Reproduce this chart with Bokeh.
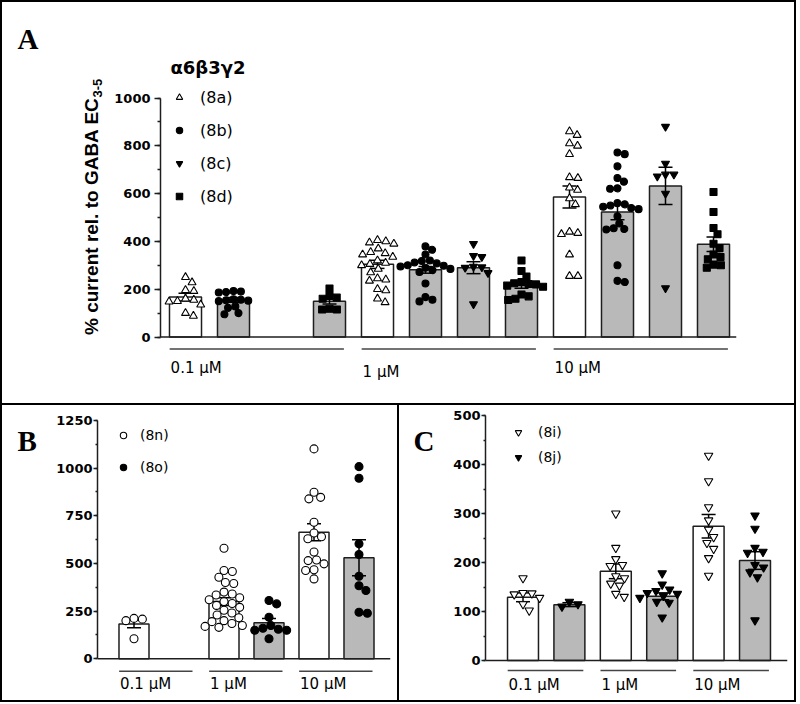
import math
from bokeh.plotting import figure
from bokeh.models import Range1d, Span, Legend, LegendItem, SingleIntervalTicker, Spacer
from bokeh.layouts import column, row
from bokeh.embed import file_html
from bokeh.resources import INLINE
from bokeh.core.properties import value

# ------------------------------------------------------------------ data
conc_labels = ["0.1 µM", "1 µM", "10 µM"]

# Panel A  (α6β3γ2)
a_title = "α6β3γ2"
a_ylabel = "% current rel. to GABA EC"
a_ylabel_sub = "3-5"
a_names = ["(8a)", "(8b)", "(8c)", "(8d)"]
mean_8a = [167, 304, 586]
sem_8a = [16, 17, 46]
mean_8b = [155, 281, 523]
sem_8b = [10, 14, 32]
mean_8c = [None, 290, 632]
sem_8c = [None, 25, 78]
mean_8d = [150, 216, 388]
sem_8d = [12, 12, 30]
pts_8a = [
    [250, 228, 196, 192, 160, 155, 150, 148, 135, 100, 88],
    [405, 400, 395, 390, 370, 355, 350, 345, 335, 320, 310, 305, 300, 285, 270, 245, 240, 235, 200, 195, 160, 145],
    [860, 845, 810, 800, 765, 668, 665, 625, 615, 580, 555, 440, 435, 430, 345, 255, 255],
]
pts_8b = [
    [192, 190, 188, 186, 158, 156, 154, 152, 150, 128, 122, 100, 95],
    [379, 365, 345, 320, 318, 312, 308, 300, 298, 295, 290, 285, 280, 272, 224, 167, 156, 149],
    [772, 765, 714, 665, 650, 622, 620, 560, 555, 550, 545, 540, 535, 505, 475, 455, 452, 450, 300, 235, 230],
]
pts_8c = [
    [],
    [390, 340, 335, 295, 292, 290, 268, 138],
    [880, 726, 680, 680, 672, 600, 205],
]
pts_8d = [
    [203, 172, 165, 160, 118, 115, 115],
    [320, 276, 253, 230, 225, 222, 220, 215, 210, 178, 170, 160, 155],
    [607, 523, 456, 430, 390, 372, 345, 335, 325, 303, 300, 290],
]

# Panel B
b_names = ["(8n)", "(8o)"]
mean_8n = [183, 300, 664]
sem_8n = [20, 20, 45]
mean_8o = [None, 189, 530]
sem_8o = [None, 22, 95]
pts_8n = [
    [212, 208, 200, 105],
    [580, 463, 458, 428, 400, 395, 350, 340, 335, 320, 310, 300, 290, 280, 270, 255, 240, 230, 215, 200, 195, 185, 175, 170, 165],
    [1101, 874, 847, 839, 716, 660, 640, 630, 560, 518, 515, 498, 467, 463, 419],
]
pts_8o = [
    [],
    [306, 288, 218, 175, 160, 155, 150, 150, 105],
    [1008, 947, 603, 547, 433, 383, 358, 244, 239],
]

# Panel C
c_names = ["(8i)", "(8j)"]
mean_8i = [129, 182, 274]
sem_8i = [9, 15, 24]
mean_8j = [114, 131, 204]
sem_8j = [4, 7, 18]
pts_8i = [
    [168, 138, 137, 135, 128, 115, 102],
    [300, 230, 207, 195, 193, 172, 168, 157, 153, 136, 130],
    [418, 366, 313, 286, 267, 252, 240, 228, 209, 173],
]
pts_8j = [
    [120, 115, 110],
    [178, 155, 145, 142, 138, 136, 132, 128, 120, 118, 88],
    [296, 269, 230, 222, 220, 195, 190, 180, 170, 82],
]

# ------------------------------------------------------------------ styles
GRAY = "#b9b9b9"
INK = "#1e1e1e"
SANS = "DejaVu Sans"


def swarm(vals, ppu, slot_px, d):
    """Simple beeswarm: horizontal offsets (data units) so markers don't overlap."""
    order = sorted(range(len(vals)), key=lambda i: -vals[i])
    placed = []
    offs = [0.0] * len(vals)
    for i in order:
        y = vals[i] * ppu
        cands = [0.0]
        for xp, yp in placed:
            ddy = abs(y - yp)
            if ddy < d:
                ddx = math.sqrt(d * d - ddy * ddy)
                cands += [xp + ddx, xp - ddx]
        cands.sort(key=lambda c: (abs(c), -c))
        chosen = 0.0
        for c in cands:
            if all((c - xp) ** 2 + (y - yp) ** 2 >= d * d - 1e-6 for xp, yp in placed):
                chosen = c
                break
        placed.append((chosen, y))
        offs[i] = chosen / slot_px
    return offs


def black_bar(w, h):
    return Spacer(width=w, height=h, styles={"background-color": "black"})


def make_main(cfg):
    """Main plotting figure. All cfg positions are page pixels."""
    ox, oy, W, H = cfg["ox"], cfg["oy"], cfg["W"], cfg["H"]
    fl, fr = cfg["fl"], cfg["fr"]
    slot, c0 = cfg["slot"], cfg["c0"]
    ytop, zero, top_px = cfg["ytop"], cfg["zero"], cfg["top_px"]
    ppu = (zero - top_px) / ytop
    ft, fb = oy, oy + H
    p = figure(width=W, height=H,
               x_range=Range1d((fl - c0) / slot, (fr - c0) / slot),
               y_range=Range1d((zero - fb) / ppu, (zero - ft) / ppu),
               min_border_left=fl - ox, min_border_right=ox + W - fr,
               min_border_top=0, min_border_bottom=0,
               output_backend="svg", toolbar_location=None,
               x_axis_location=None, y_axis_location="left",
               outline_line_color=None, background_fill_color="white",
               border_fill_color="white")
    for g in p.grid:
        g.visible = False
    ax = p.yaxis[0]
    ax.ticker = SingleIntervalTicker(interval=cfg["ytick"], num_minor_ticks=2)
    ax.bounds = (0, ytop)
    ax.axis_line_color = INK
    ax.axis_line_width = 1.5
    ax.major_tick_line_color = INK
    ax.major_tick_line_width = 1.5
    ax.minor_tick_line_color = INK
    ax.minor_tick_line_width = 1.5
    ax.major_tick_in = 0
    ax.major_tick_out = cfg["tick_out"]
    ax.minor_tick_in = 0
    ax.minor_tick_out = cfg["tick_out"] // 2
    ax.major_label_standoff = cfg["standoff"]
    ax.major_label_text_font = SANS
    ax.major_label_text_font_style = "bold"
    ax.major_label_text_font_size = "13px"
    ax.major_label_text_color = "black"
    p.add_layout(Span(location=0, dimension="width", line_color=INK, line_width=1.5))

    def dx(px):
        return (px - c0) / slot

    def dy(py):
        return (zero - py) / ppu

    return p, dx, dy, ppu


def make_side(w, h):
    p = figure(width=w, height=h, x_range=Range1d(0, w), y_range=Range1d(0, h),
               min_border=0, output_backend="svg", toolbar_location=None,
               x_axis_location=None, y_axis_location=None,
               outline_line_color=None, background_fill_color="white",
               border_fill_color="white")
    for g in p.grid:
        g.visible = False
    return p


def side_text(p, h, x, y_from_top, text, font, style, size, angle=0.0, align="left",
              baseline="alphabetic"):
    p.text(x=[x], y=[h - y_from_top], text=[text], angle=angle,
           text_align=align, text_baseline=baseline,
           text_font=value(font), text_font_style=style,
           text_font_size=value(size), text_color="black")


def draw_series(p, cfg, ppu, means, sems, pts, n_per_group, styles_list, names, leg):
    slot = cfg["slot"]
    bw = 0.667
    cap = 7.0 / slot
    series = list(zip(means, sems, pts, styles_list, names))
    for k, (m_list, s_list, p_list, st, name) in enumerate(series):
        xs, tops = [], []
        for g in range(len(conc_labels)):
            if m_list[g] is not None:
                xs.append(g * n_per_group + k)
                tops.append(m_list[g])
        p.vbar(x=xs, top=tops, bottom=0, width=bw, fill_color=st["bar"],
               line_color=INK, line_width=1.5)
    for k, (m_list, s_list, p_list, st, name) in enumerate(series):
        ex, lo, hi = [], [], []
        for g in range(len(conc_labels)):
            if m_list[g] is not None:
                ex.append(g * n_per_group + k)
                lo.append(m_list[g] - s_list[g])
                hi.append(m_list[g] + s_list[g])
        p.segment(x0=ex, x1=ex, y0=lo, y1=hi, line_color="black", line_width=1.5)
        p.segment(x0=[x - cap for x in ex], x1=[x + cap for x in ex], y0=hi, y1=hi,
                  line_color="black", line_width=1.5)
        p.segment(x0=[x - cap for x in ex], x1=[x + cap for x in ex], y0=lo, y1=lo,
                  line_color="black", line_width=1.5)
    items = []
    for k, (m_list, s_list, p_list, st, name) in enumerate(series):
        px, py = [], []
        for g in range(len(conc_labels)):
            vals = p_list[g]
            if not vals:
                continue
            offs = swarm(vals, ppu, slot, st["size"] + 0.4)
            for v, o in zip(vals, offs):
                px.append(g * n_per_group + k + o)
                py.append(v)
        r = p.scatter(x=px, y=py, marker=st["marker"], size=st["size"],
                      fill_color=st["fill"], line_color="black", line_width=1.1)
        items.append(LegendItem(label=name, renderers=[r]))
    n = len(items)
    item_h = 20
    leg_bottom = leg["first_center"] - item_h / 2 + n * item_h + (n - 1) * leg["spacing"]
    fb = cfg["oy"] + cfg["H"]
    legend = Legend(items=items,
                    location=(leg["marker_x"] - 8 - cfg["fl"], fb - leg_bottom),
                    orientation="vertical", padding=0, margin=0, spacing=leg["spacing"],
                    glyph_width=16, glyph_height=item_h, label_height=item_h,
                    label_standoff=leg["text_x"] - (leg["marker_x"] + 8),
                    label_text_font=SANS, label_text_font_size=leg["font"],
                    label_text_color="black",
                    border_line_color=None, background_fill_alpha=0)
    p.add_layout(legend)


def draw_groups(p, cfg, dy, n_per_group):
    yl = dy(cfg["gline"])
    for g, lab in enumerate(conc_labels):
        first = g * n_per_group
        last = first + n_per_group - 1
        p.segment(x0=[first - 0.33], x1=[last + 0.3], y0=[yl], y1=[yl],
                  line_color="#444444", line_width=1.5)
        p.text(x=[first - 0.31], y=[dy(cfg["glabel"][g])], text=[lab], text_align="left",
               text_baseline="middle", text_font=value(SANS),
               text_font_size=value("15px"), text_color="black")


# ------------------------------------------------------------------ layout (page pixels)
cfgA = dict(ox=106, oy=2, W=688, H=401, fl=160, fr=736, c0=185, slot=48.0,
            ytop=1000, zero=336.5, top_px=97.5, ytick=200, gline=348.5,
            glabel=[367.5, 371.5, 367.5], tick_out=6, standoff=4)
cfgB = dict(ox=47, oy=405, W=350, H=295, fl=97, fr=390, c0=133.5, slot=45.0,
            ytop=1250, zero=658.3, top_px=420, ytick=250, gline=670.7,
            glabel=[683, 683, 683], tick_out=4, standoff=1)
cfgC = dict(ox=439, oy=405, W=355, H=295, fl=485, fr=787, c0=522.5, slot=46.4,
            ytop=500, zero=660, top_px=415, ytick=100, gline=670,
            glabel=[684, 684, 684], tick_out=4, standoff=1)

# ------------------------------------------------------------------ panel A
pA, dxA, dyA, ppuA = make_main(cfgA)
stylesA = [
    dict(bar="white", marker="triangle", fill="white", size=8),
    dict(bar=GRAY, marker="circle", fill="black", size=7),
    dict(bar=GRAY, marker="inverted_triangle", fill="black", size=8),
    dict(bar=GRAY, marker="square", fill="black", size=7),
]
draw_series(pA, cfgA, ppuA, [mean_8a, mean_8b, mean_8c, mean_8d],
            [sem_8a, sem_8b, sem_8c, sem_8d], [pts_8a, pts_8b, pts_8c, pts_8d], 4,
            stylesA, a_names,
            dict(first_center=97, spacing=13, marker_x=179, text_x=200, font="16px"))
draw_groups(pA, cfgA, dyA, 4)
pA.text(x=[dxA(207.5)], y=[dyA(67)], text=[a_title], text_align="center",
        text_baseline="alphabetic", text_font=value(SANS), text_font_style="bold",
        text_font_size=value("18px"), text_color="black")

sideA = make_side(104, 401)          # page x 2..106, y 2..403
side_text(sideA, 401, 15, 36, "A", "Liberation Serif", "bold", "29px")
side_text(sideA, 401, 88.5, 95, a_ylabel, "Liberation Sans", "bold", "19px",
          angle=math.pi / 2, align="right", baseline="middle")
side_text(sideA, 401, 94.5, 95, a_ylabel_sub, "Liberation Sans", "bold", "13px",
          angle=math.pi / 2, align="left", baseline="middle")

# ------------------------------------------------------------------ panel B
pB, dxB, dyB, ppuB = make_main(cfgB)
stylesB = [
    dict(bar="white", marker="circle", fill="white", size=8),
    dict(bar=GRAY, marker="circle", fill="black", size=8),
]
draw_series(pB, cfgB, ppuB, [mean_8n, mean_8o], [sem_8n, sem_8o], [pts_8n, pts_8o], 2,
            stylesB, b_names,
            dict(first_center=435, spacing=12, marker_x=123, text_x=140, font="14px"))
draw_groups(pB, cfgB, dyB, 2)
sideB = make_side(45, 295)           # page x 2..47, y 405..700
side_text(sideB, 295, 15, 35, "B", "Liberation Serif", "bold", "29px")

# ------------------------------------------------------------------ panel C
pC, dxC, dyC, ppuC = make_main(cfgC)
stylesC = [
    dict(bar="white", marker="inverted_triangle", fill="white", size=8.5),
    dict(bar=GRAY, marker="inverted_triangle", fill="black", size=8.5),
]
draw_series(pC, cfgC, ppuC, [mean_8i, mean_8j], [sem_8i, sem_8j], [pts_8i, pts_8j], 2,
            stylesC, c_names,
            dict(first_center=432, spacing=5, marker_x=518, text_x=538, font="14px"))
draw_groups(pC, cfgC, dyC, 2)
sideC = make_side(40, 295)           # page x 399..439, y 405..700
side_text(sideC, 295, 14, 35, "C", "Liberation Serif", "bold", "29px")

# ------------------------------------------------------------------ assemble with black frame lines
rowA = row(black_bar(2, 401), sideA, pA, black_bar(2, 401), spacing=0)
rowBC = row(black_bar(2, 295), sideB, pB, black_bar(2, 295), sideC, pC,
            black_bar(2, 295), spacing=0)
layout = column(black_bar(796, 2), rowA, black_bar(796, 2), rowBC, black_bar(796, 2),
                spacing=0)
open("out.html", "w").write(file_html(layout, INLINE))
